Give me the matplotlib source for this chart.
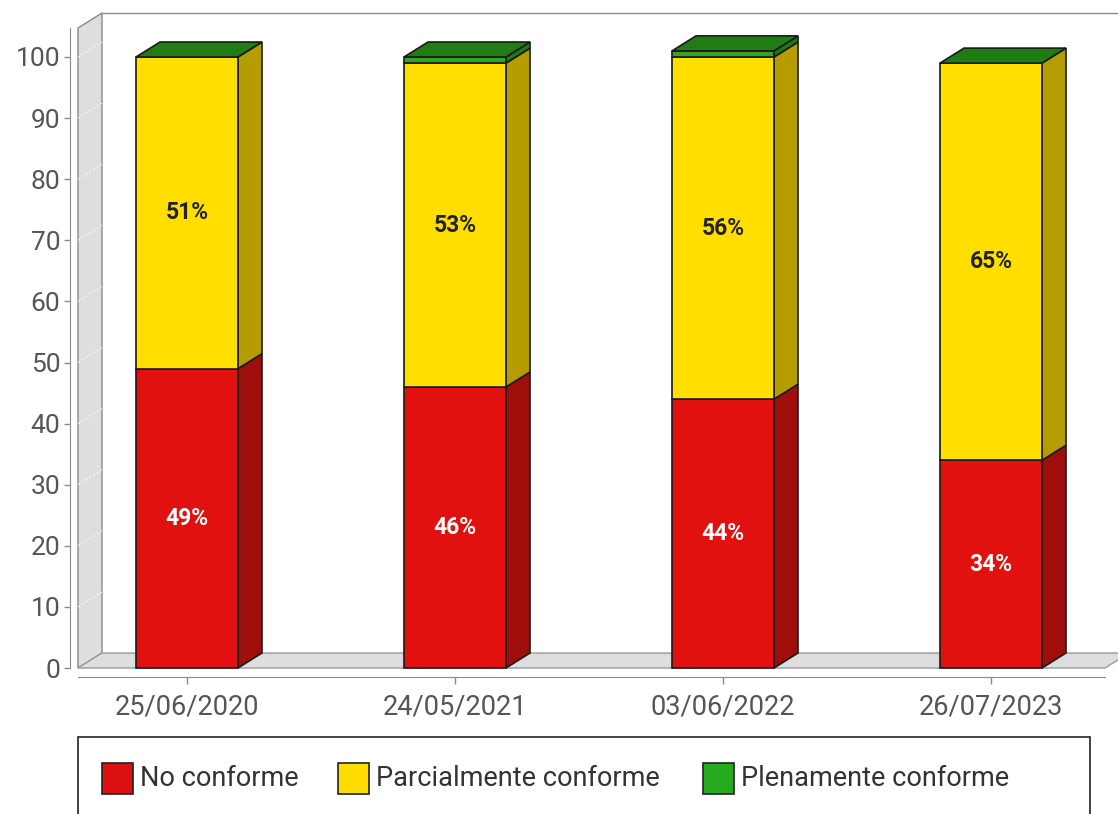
import matplotlib
matplotlib.use("Agg")
import matplotlib.pyplot as plt
from matplotlib.patches import Polygon, Rectangle
import numpy as np

plt.rcParams['font.family'] = ['Roboto', 'DejaVu Sans']

# ---- data ----
dates = ["25/06/2020", "24/05/2021", "03/06/2022", "26/07/2023"]
series_names = ["No conforme", "Parcialmente conforme", "Plenamente conforme"]
no_conforme = [49, 46, 44, 34]
parcial = [51, 53, 56, 65]
plenamente = [0, 1, 1, 0]
yticks = [0, 10, 20, 30, 40, 50, 60, 70, 80, 90, 100]

front_colors = ["#e0110e", "#ffde00", "#2ea81c"]
side_colors = ["#a00e0b", "#b59c00", "#1f7a14"]
top_colors = ["#b01010", "#c8ad00", "#217c16"]
legend_colors = ["#dc1010", "#ffdc00", "#26aa1e"]

W, H = 1118, 814
fig = plt.figure(figsize=(W / 100, H / 100), dpi=100)

# pixel geometry of the plotting area
px0 = 187.0      # x pixel of first category
pxu = 268.0      # pixels per category
py0 = 668.0      # y pixel of value 0
pyu = 6.11       # pixels per unit value
ax_l, ax_r = 30, 1118
ax_t, ax_b = 0, 700
ax = fig.add_axes([ax_l / W, 1 - ax_b / H, (ax_r - ax_l) / W, (ax_b - ax_t) / H])
ax.set_xlim((ax_l - px0) / pxu, (ax_r - px0) / pxu)
ax.set_ylim((py0 - ax_b) / pyu, (py0 - ax_t) / pyu)
ax.patch.set_visible(False)

DX = 24 / pxu     # depth offset in data units
DY = 15 / pyu

def xd(px):
    return (px - px0) / pxu

def yd(py):
    return (py0 - py) / pyu

# ---- 3D frame ----
wl = xd(78)
wr = xd(1105)
top = yd(28)
# left wall
ax.add_patch(Polygon([(wl, 0), (wl, top), (wl + DX, top + DY), (wl + DX, DY)],
                     closed=True, facecolor="#dedede", edgecolor="#8a8a8a", lw=1.0, zorder=1))
# back wall top edge
ax.plot([wl + DX, xd(1125)], [top + DY, top + DY], color="#8a8a8a", lw=1.0, zorder=1, clip_on=False)
# floor
ax.add_patch(Polygon([(wl, 0), (wr, 0), (wr + DX, DY), (wl + DX, DY)],
                     closed=True, facecolor="#dedede", edgecolor="#9a9a9a", lw=1.0, zorder=1))
ax.plot([wl + DX, wr + DX], [DY, DY], color="#b0b0b0", lw=1.0, ls=(0, (3, 3)), zorder=1.5)
# faint gridlines on left wall
for t in yticks[1:]:
    ax.plot([wl, wl + DX], [t, t + DY], color="white", lw=0.8, ls=(0, (2, 2)), alpha=0.8, zorder=1.2)

# ---- axes lines and ticks ----
for s in ["top", "right"]:
    ax.spines[s].set_visible(False)
ax.spines["left"].set_position(("data", xd(70)))
ax.spines["left"].set_bounds(0, top)
ax.spines["left"].set_color("#8a8a8a")
ax.spines["bottom"].set_position(("data", yd(677)))
ax.spines["bottom"].set_bounds(wl, wr)
ax.spines["bottom"].set_color("#8a8a8a")
ax.set_yticks(yticks)
ax.set_yticklabels([str(t) for t in yticks])
ax.set_xticks(np.arange(len(dates)))
ax.set_xticklabels(dates)
ax.tick_params(axis="y", length=4, width=1, color="#8a8a8a", labelcolor="#555555",
               labelsize=19, pad=3)
ax.tick_params(axis="x", length=5, width=1, color="#8a8a8a", labelcolor="#555555",
               labelsize=19.5, pad=7)

# ---- stacked 3D bars ----
bw = 102 / pxu
x = np.arange(len(dates))
series = [no_conforme, parcial, plenamente]
bottoms = np.zeros(len(dates))
for si, vals in enumerate(series):
    vals = np.array(vals, dtype=float)
    ax.bar(x, vals, width=bw, bottom=bottoms, color=front_colors[si],
           edgecolor="#1a1a1a", linewidth=1.2, zorder=3)
    for i in range(len(x)):
        xr = x[i] + bw / 2
        b = bottoms[i]
        t = b + vals[i]
        if vals[i] > 0:
            ax.add_patch(Polygon([(xr, b), (xr + DX, b + DY), (xr + DX, t + DY), (xr, t)],
                                 closed=True, facecolor=side_colors[si], edgecolor="#1a1a1a",
                                 lw=1.2, zorder=2.9))
    bottoms = bottoms + vals

# top faces (top of last series)
for i in range(len(x)):
    xl = x[i] - bw / 2
    xr = x[i] + bw / 2
    t = bottoms[i]
    ax.add_patch(Polygon([(xl, t), (xr, t), (xr + DX, t + DY), (xl + DX, t + DY)],
                         closed=True, facecolor=top_colors[2], edgecolor="#1a1a1a",
                         lw=1.2, zorder=3.1))

# percentage labels
for i in range(len(x)):
    b0 = 0
    for si, vals in enumerate(series[:2]):
        v = vals[i]
        ax.text(x[i], b0 + v / 2, f"{v}%", ha="center", va="center", fontsize=16.5,
                fontweight="bold", color="white" if si == 0 else "#222222", zorder=4)
        b0 += v

# ---- legend box ----
fig.patches.append(Rectangle((78 / W, 1 - 830 / H), (1090 - 78) / W, (830 - 737) / H,
                             transform=fig.transFigure, facecolor="white",
                             edgecolor="#222222", lw=1.2, clip_on=False))
legend_patch_x = [102, 338, 703]
for k, name in enumerate(series_names):
    px = legend_patch_x[k]
    fig.patches.append(Rectangle((px / W, 1 - 794 / H), 31 / W, 31 / H,
                                 transform=fig.transFigure, facecolor=legend_colors[k],
                                 edgecolor="#222222", lw=1.2))
    fig.text((px + 38) / W, 1 - 778 / H, name, ha="left", va="center",
             fontsize=19.5, color="#333333")

fig.savefig("out.png", dpi=100)
